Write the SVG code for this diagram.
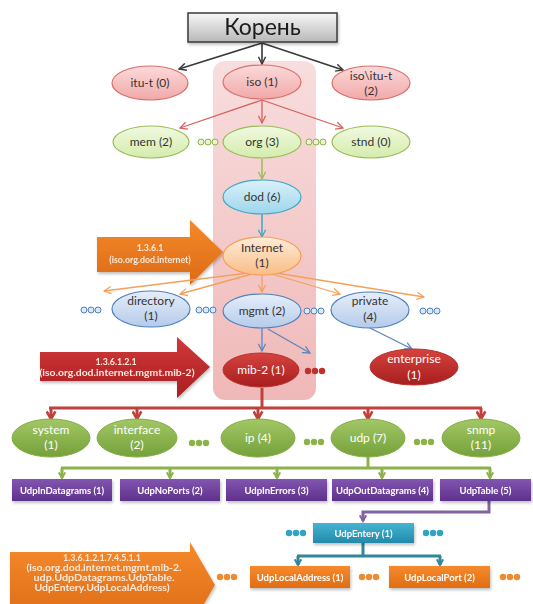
<svg xmlns="http://www.w3.org/2000/svg" width="533" height="604" viewBox="0 0 533 604">
<defs>
<linearGradient id="gRoot" x1="0" y1="0" x2="0" y2="1"><stop offset="0" stop-color="#f7f7f7"/><stop offset="1" stop-color="#b8b8b8"/></linearGradient>
<linearGradient id="gPink" x1="0" y1="0" x2="0" y2="1"><stop offset="0" stop-color="#fbdada"/><stop offset="1" stop-color="#f2a8a8"/></linearGradient>
<linearGradient id="gLGreen" x1="0" y1="0" x2="0" y2="1"><stop offset="0" stop-color="#f0f9e0"/><stop offset="1" stop-color="#d4ecac"/></linearGradient>
<linearGradient id="gCyan" x1="0" y1="0" x2="0" y2="1"><stop offset="0" stop-color="#d9f1fa"/><stop offset="1" stop-color="#9dd6ec"/></linearGradient>
<linearGradient id="gPeach" x1="0" y1="0" x2="0" y2="1"><stop offset="0" stop-color="#feecd8"/><stop offset="1" stop-color="#f9bd86"/></linearGradient>
<linearGradient id="gLBlue" x1="0" y1="0" x2="0" y2="1"><stop offset="0" stop-color="#e6eefa"/><stop offset="1" stop-color="#b5cbea"/></linearGradient>
<linearGradient id="gDRed" x1="0" y1="0" x2="0" y2="1"><stop offset="0" stop-color="#d6433e"/><stop offset="1" stop-color="#a61e1e"/></linearGradient>
<linearGradient id="gDGreen" x1="0" y1="0" x2="0" y2="1"><stop offset="0" stop-color="#a2c865"/><stop offset="1" stop-color="#75a03a"/></linearGradient>
<linearGradient id="gPurple" x1="0" y1="0" x2="0" y2="1"><stop offset="0" stop-color="#8256b0"/><stop offset="1" stop-color="#5e318c"/></linearGradient>
<linearGradient id="gTeal" x1="0" y1="0" x2="0" y2="1"><stop offset="0" stop-color="#45b4d2"/><stop offset="1" stop-color="#218aaa"/></linearGradient>
<linearGradient id="gOrange" x1="0" y1="0" x2="0" y2="1"><stop offset="0" stop-color="#f68a2c"/><stop offset="1" stop-color="#e06d12"/></linearGradient>
<linearGradient id="gBigOrange" x1="0" y1="0" x2="0" y2="1"><stop offset="0" stop-color="#f5892c"/><stop offset="1" stop-color="#dc6a14"/></linearGradient>
<linearGradient id="gBigRed" x1="0" y1="0" x2="0" y2="1"><stop offset="0" stop-color="#d0383a"/><stop offset="1" stop-color="#a91f22"/></linearGradient>
<linearGradient id="gCol" x1="0" y1="0" x2="0" y2="1"><stop offset="0" stop-color="#f7dada"/><stop offset="1" stop-color="#eeb0b0"/></linearGradient>
<filter id="sh" x="-20%" y="-20%" width="140%" height="150%"><feDropShadow dx="1" dy="2" stdDeviation="1.5" flood-color="#000" flood-opacity="0.25"/></filter>
<marker id="aDark" viewBox="0 0 10 10" refX="9" refY="5" markerWidth="9" markerHeight="9" markerUnits="userSpaceOnUse" orient="auto"><path d="M1,1 L9,5 L1,9" fill="none" stroke="#3a3a3a" stroke-width="1.6"/></marker>
<marker id="aRed" viewBox="0 0 10 10" refX="9" refY="5" markerWidth="9" markerHeight="9" markerUnits="userSpaceOnUse" orient="auto"><path d="M1,1 L9,5 L1,9" fill="none" stroke="#d9605c" stroke-width="1.4"/></marker>
<marker id="aGreen" viewBox="0 0 10 10" refX="9" refY="5" markerWidth="9" markerHeight="9" markerUnits="userSpaceOnUse" orient="auto"><path d="M1,1 L9,5 L1,9" fill="none" stroke="#9bbb59" stroke-width="1.4"/></marker>
<marker id="aCyan" viewBox="0 0 10 10" refX="9" refY="5" markerWidth="9" markerHeight="9" markerUnits="userSpaceOnUse" orient="auto"><path d="M1,1 L9,5 L1,9" fill="none" stroke="#3fa6c4" stroke-width="1.4"/></marker>
<marker id="aOrange" viewBox="0 0 10 10" refX="9" refY="5" markerWidth="9" markerHeight="9" markerUnits="userSpaceOnUse" orient="auto"><path d="M1,1 L9,5 L1,9" fill="none" stroke="#f5a05a" stroke-width="1.4"/></marker>
<marker id="aBlue" viewBox="0 0 10 10" refX="9" refY="5" markerWidth="9" markerHeight="9" markerUnits="userSpaceOnUse" orient="auto"><path d="M1,1 L9,5 L1,9" fill="none" stroke="#5b86c0" stroke-width="1.4"/></marker>
<marker id="aDRed" viewBox="0 0 10 10" refX="8" refY="5" markerWidth="11" markerHeight="11" markerUnits="userSpaceOnUse" orient="auto"><path d="M1,1 L8,5 L1,9" fill="none" stroke="#c0403c" stroke-width="2.4"/></marker>
<marker id="aDGreen" viewBox="0 0 10 10" refX="8" refY="5" markerWidth="8" markerHeight="8" markerUnits="userSpaceOnUse" orient="auto"><path d="M1,1 L8,5 L1,9" fill="none" stroke="#8cb34a" stroke-width="2.4"/></marker>
<marker id="aPurple" viewBox="0 0 10 10" refX="8" refY="5" markerWidth="8" markerHeight="8" markerUnits="userSpaceOnUse" orient="auto"><path d="M1,1 L8,5 L1,9" fill="none" stroke="#8064a2" stroke-width="2.4"/></marker>
<marker id="aTeal" viewBox="0 0 10 10" refX="8" refY="5" markerWidth="8" markerHeight="8" markerUnits="userSpaceOnUse" orient="auto"><path d="M1,1 L8,5 L1,9" fill="none" stroke="#31859c" stroke-width="2.4"/></marker>
</defs>
<style>
text{font-family:Lato,"Liberation Sans","Noto Sans",sans-serif;text-anchor:middle}
.lbl{font-size:12px;fill:#333333}
.wl{font-size:12px;fill:#ffffff}
.bx{font-size:9.5px;font-weight:bold;fill:#ffffff}
.ar{font-size:8.8px;font-weight:bold;fill:#fde9d9}
.pink{fill:url(#gPink);stroke:#d9706c;stroke-width:1.2}
.lgreen{fill:url(#gLGreen);stroke:#9bbb59;stroke-width:1.2}
.cyan{fill:url(#gCyan);stroke:#3fa6c4;stroke-width:1.2}
.peach{fill:url(#gPeach);stroke:#f59d56;stroke-width:1.2}
.lblue{fill:url(#gLBlue);stroke:#4f81bd;stroke-width:1.2}
.dred{fill:url(#gDRed);stroke:#b8322f;stroke-width:1}
.dgreen{fill:url(#gDGreen);stroke:#85ad45;stroke-width:1}
.purple{fill:url(#gPurple)}
.teal{fill:url(#gTeal)}
.orange{fill:url(#gOrange)}
.c{fill:none}
.cd{stroke:#3a3a3a;stroke-width:1.6}
.cr{stroke:#d9605c;stroke-width:1.3}
.cg{stroke:#9bbb59;stroke-width:1.5}
.cc{stroke:#3fa6c4;stroke-width:1.5}
.co{stroke:#f5a05a;stroke-width:1.3}
.cb{stroke:#5b86c0;stroke-width:1.3}
.bdr{stroke:#c0403c;stroke-width:3}
.bdg{stroke:#8cb34a;stroke-width:3}
.bpu{stroke:#8064a2;stroke-width:3}
.bte{stroke:#31859c;stroke-width:3}
.dlg{fill:#e8f5d0;stroke:#8cb34a;stroke-width:1}
.dlb{fill:#dce8f8;stroke:#4f81bd;stroke-width:1}
.ddr{fill:#c0302c}
.ddg{fill:#8cb34a}
.dte{fill:#2ea3c4}
.dor{fill:#f08a30}
</style>

<rect id="column" x="213" y="61" width="103" height="339" rx="12" fill="url(#gCol)" opacity="0.9"/>

<g id="bigarrows">
<g id="arrow-internet" filter="url(#sh)">
<polygon points="97,237 190,237 190,220 223,252 190,285 190,272 97,272" fill="url(#gBigOrange)"/>
<text class="ar" x="150" y="251">1.3.6.1</text>
<text class="ar" x="150" y="263">(iso.org.dod.internet)</text>
</g>
<g id="arrow-mib2" filter="url(#sh)">
<polygon points="40,352 177,352 177,337 210,367 177,398 177,381 40,381" fill="url(#gBigRed)"/>
<text class="ar" x="116" y="365" fill="#f7d3d3">1.3.6.1.2.1</text>
<text class="ar" x="117" y="376" textLength="155" lengthAdjust="spacingAndGlyphs">(iso.org.dod.internet.mgmt.mib-2)</text>
</g>
<g id="arrow-udplocal" filter="url(#sh)">
<polygon points="10,552 190,552 190,542 215,585 190,628 190,618 10,618" fill="url(#gBigOrange)"/>
<text class="ar" x="102" y="561" textLength="78" lengthAdjust="spacingAndGlyphs">1.3.6.1.2.1.7.4.5.1.1</text>
<text class="ar" x="104" y="571" textLength="155" lengthAdjust="spacingAndGlyphs">(iso.org.dod.internet.mgmt.mib-2.</text>
<text class="ar" x="104" y="581" textLength="141" lengthAdjust="spacingAndGlyphs">udp.UdpDatagrams.UdpTable.</text>
<text class="ar" x="102" y="591" textLength="135" lengthAdjust="spacingAndGlyphs">UdpEntery.UdpLocalAddress)</text>
</g>
</g>

<g id="connectors" class="c">
<line class="cd" x1="262" y1="43" x2="179" y2="69" marker-end="url(#aDark)"/>
<line class="cd" x1="262" y1="43" x2="262" y2="64" marker-end="url(#aDark)"/>
<line class="cd" x1="262" y1="43" x2="343" y2="70" marker-end="url(#aDark)"/>
<line class="cr" x1="262" y1="100" x2="180" y2="128" marker-end="url(#aRed)"/>
<line class="cr" x1="262" y1="100" x2="262" y2="123" marker-end="url(#aRed)"/>
<line class="cr" x1="262" y1="100" x2="343" y2="128" marker-end="url(#aRed)"/>
<line class="cg" x1="262" y1="159" x2="262" y2="179" marker-end="url(#aGreen)"/>
<line class="cc" x1="262" y1="214" x2="262" y2="237" marker-end="url(#aCyan)"/>
<line class="co" x1="248" y1="273" x2="104" y2="291" marker-end="url(#aOrange)"/>
<line class="co" x1="252" y1="274" x2="180" y2="294" marker-end="url(#aOrange)"/>
<line class="co" x1="262" y1="274" x2="262" y2="292" marker-end="url(#aOrange)"/>
<line class="co" x1="272" y1="274" x2="340" y2="294" marker-end="url(#aOrange)"/>
<line class="co" x1="276" y1="273" x2="424" y2="297" marker-end="url(#aOrange)"/>
<line class="cb" x1="262" y1="328" x2="262" y2="351" marker-end="url(#aBlue)"/>
<line class="cb" x1="268" y1="329" x2="310" y2="353" marker-end="url(#aBlue)"/>
<line class="cb" x1="370" y1="328" x2="412" y2="349" marker-end="url(#aBlue)"/>
<polyline class="bdr" points="262,388 262,408"/>
<line class="bdr" x1="49" y1="408" x2="482" y2="408"/>
<line class="bdr" x1="51" y1="408" x2="51" y2="419" marker-end="url(#aDRed)"/>
<line class="bdr" x1="137" y1="408" x2="137" y2="419" marker-end="url(#aDRed)"/>
<line class="bdr" x1="258" y1="408" x2="258" y2="419" marker-end="url(#aDRed)"/>
<line class="bdr" x1="368" y1="408" x2="368" y2="419" marker-end="url(#aDRed)"/>
<line class="bdr" x1="481" y1="408" x2="481" y2="419" marker-end="url(#aDRed)"/>
<polyline class="bdg" points="368,456 368,468"/>
<line class="bdg" x1="61" y1="468" x2="491" y2="468"/>
<line class="bdg" x1="62" y1="468" x2="62" y2="478" marker-end="url(#aDGreen)"/>
<line class="bdg" x1="170" y1="468" x2="170" y2="478" marker-end="url(#aDGreen)"/>
<line class="bdg" x1="277" y1="468" x2="277" y2="478" marker-end="url(#aDGreen)"/>
<line class="bdg" x1="382" y1="468" x2="382" y2="478" marker-end="url(#aDGreen)"/>
<line class="bdg" x1="490" y1="468" x2="490" y2="478" marker-end="url(#aDGreen)"/>
<polyline class="bpu" points="489,501 489,512 363,512 363,521" marker-end="url(#aPurple)"/>
<polyline class="bte" points="363,543 363,556"/>
<line class="bte" x1="297" y1="556" x2="441" y2="556"/>
<line class="bte" x1="298" y1="556" x2="298" y2="565" marker-end="url(#aTeal)"/>
<line class="bte" x1="440" y1="556" x2="440" y2="565" marker-end="url(#aTeal)"/>
</g>

<g id="dots">
<g class="dlg"><circle cx="201" cy="142" r="3"/><circle cx="208" cy="142" r="3"/><circle cx="215" cy="142" r="3"/></g>
<g class="dlg"><circle cx="309" cy="142" r="3"/><circle cx="316" cy="142" r="3"/><circle cx="323" cy="142" r="3"/></g>
<g class="dlb"><circle cx="84" cy="310" r="3"/><circle cx="91" cy="310" r="3"/><circle cx="98" cy="310" r="3"/></g>
<g class="dlb"><circle cx="199" cy="310" r="3"/><circle cx="206" cy="310" r="3"/><circle cx="213" cy="310" r="3"/></g>
<g class="dlb"><circle cx="307" cy="311" r="3"/><circle cx="314" cy="311" r="3"/><circle cx="321" cy="311" r="3"/></g>
<g class="dlb"><circle cx="423" cy="311" r="3"/><circle cx="430" cy="311" r="3"/><circle cx="437" cy="311" r="3"/></g>
<g class="ddr"><circle cx="308" cy="371" r="3.2"/><circle cx="315" cy="371" r="3.2"/><circle cx="322" cy="371" r="3.2"/></g>
<g class="ddg"><circle cx="192" cy="443" r="3.2"/><circle cx="199" cy="443" r="3.2"/><circle cx="206" cy="443" r="3.2"/></g>
<g class="ddg"><circle cx="307" cy="442" r="3.2"/><circle cx="314" cy="442" r="3.2"/><circle cx="321" cy="442" r="3.2"/></g>
<g class="ddg"><circle cx="417" cy="442" r="3.2"/><circle cx="424" cy="442" r="3.2"/><circle cx="431" cy="442" r="3.2"/></g>
<g class="dte"><circle cx="289" cy="533" r="3.2"/><circle cx="296" cy="533" r="3.2"/><circle cx="303" cy="533" r="3.2"/></g>
<g class="dte"><circle cx="426" cy="533" r="3.2"/><circle cx="433" cy="533" r="3.2"/><circle cx="440" cy="533" r="3.2"/></g>
<g class="dor"><circle cx="220" cy="577" r="3.2"/><circle cx="227" cy="577" r="3.2"/><circle cx="234" cy="577" r="3.2"/></g>
<g class="dor"><circle cx="362" cy="577" r="3.2"/><circle cx="369" cy="577" r="3.2"/><circle cx="376" cy="577" r="3.2"/></g>
<g class="dor"><circle cx="503" cy="577" r="3.2"/><circle cx="510" cy="577" r="3.2"/><circle cx="517" cy="577" r="3.2"/></g>
</g>

<g id="root" filter="url(#sh)"><rect x="188" y="13" width="149" height="29" fill="url(#gRoot)" stroke="#3a3a3a" stroke-width="1.5"/><text x="262.5" y="35" font-size="23" fill="#1a1a1a">Корень</text></g>

<g id="itu-t"><ellipse class="pink" cx="150" cy="83" rx="38" ry="17"/><text class="lbl" x="150" y="87">itu-t (0)</text></g>
<g id="iso"><ellipse class="pink" cx="262" cy="82" rx="39" ry="17"/><text class="lbl" x="262" y="86">iso (1)</text></g>
<g id="iso-itu-t"><ellipse class="pink" cx="371" cy="83" rx="39" ry="17"/><text class="lbl" x="371" y="80">iso\itu-t</text><text class="lbl" x="371" y="95">(2)</text></g>

<g id="mem"><ellipse class="lgreen" cx="151" cy="142" rx="38" ry="16"/><text class="lbl" x="151" y="146">mem (2)</text></g>
<g id="org"><ellipse class="lgreen" cx="262" cy="142" rx="39" ry="16"/><text class="lbl" x="262" y="146">org (3)</text></g>
<g id="stnd"><ellipse class="lgreen" cx="371" cy="142" rx="39" ry="16"/><text class="lbl" x="371" y="146">stnd (0)</text></g>

<g id="dod"><ellipse class="cyan" cx="262" cy="197" rx="39" ry="17"/><text class="lbl" x="262" y="201">dod (6)</text></g>
<g id="internet"><ellipse class="peach" cx="262" cy="256" rx="39" ry="19"/><text class="lbl" x="262" y="252">Internet</text><text class="lbl" x="262" y="267">(1)</text></g>

<g id="directory"><ellipse class="lblue" cx="151" cy="309" rx="39" ry="18"/><text class="lbl" x="151" y="305">directory</text><text class="lbl" x="151" y="320">(1)</text></g>
<g id="mgmt"><ellipse class="lblue" cx="262" cy="311" rx="39" ry="17"/><text class="lbl" x="262" y="315">mgmt (2)</text></g>
<g id="private"><ellipse class="lblue" cx="370" cy="310" rx="39" ry="18"/><text class="lbl" x="370" y="305">private</text><text class="lbl" x="370" y="321">(4)</text></g>

<g id="mib-2"><ellipse class="dred" cx="261" cy="370" rx="38" ry="17"/><text class="wl" x="261" y="374">mib-2 (1)</text></g>
<g id="enterprise"><ellipse class="dred" cx="414" cy="367" rx="44" ry="18"/><text class="wl" x="414" y="363">enterprise</text><text class="wl" x="414" y="379">(1)</text></g>

<g id="system"><ellipse class="dgreen" cx="51" cy="438" rx="39" ry="19"/><text class="wl" x="51" y="434">system</text><text class="wl" x="51" y="449">(1)</text></g>
<g id="interface"><ellipse class="dgreen" cx="137" cy="438" rx="40" ry="19"/><text class="wl" x="137" y="434">interface</text><text class="wl" x="137" y="449">(2)</text></g>
<g id="ip"><ellipse class="dgreen" cx="258" cy="438" rx="37" ry="19"/><text class="wl" x="258" y="442">ip (4)</text></g>
<g id="udp"><ellipse class="dgreen" cx="368" cy="438" rx="37" ry="19"/><text class="wl" x="368" y="442">udp (7)</text></g>
<g id="snmp"><ellipse class="dgreen" cx="481" cy="438" rx="39" ry="19"/><text class="wl" x="481" y="434">snmp</text><text class="wl" x="481" y="449">(11)</text></g>

<g id="UdpInDatagrams" filter="url(#sh)"><rect class="purple" x="12" y="479" width="100" height="22"/><text class="bx" x="62" y="493.5">UdpInDatagrams (1)</text></g>
<g id="UdpNoPorts" filter="url(#sh)"><rect class="purple" x="120" y="479" width="100" height="22"/><text class="bx" x="170" y="493.5">UdpNoPorts (2)</text></g>
<g id="UdpInErrors" filter="url(#sh)"><rect class="purple" x="226" y="479" width="101" height="22"/><text class="bx" x="276.5" y="493.5">UdpInErrors (3)</text></g>
<g id="UdpOutDatagrams" filter="url(#sh)"><rect class="purple" x="332" y="479" width="101" height="22"/><text class="bx" x="382.5" y="493.5">UdpOutDatagrams (4)</text></g>
<g id="UdpTable" filter="url(#sh)"><rect class="purple" x="440" y="479" width="91" height="22"/><text class="bx" x="485.5" y="493.5">UdpTable (5)</text></g>

<g id="UdpEntery" filter="url(#sh)"><rect class="teal" x="313" y="523" width="101" height="20"/><text class="bx" x="363.5" y="536.5">UdpEntery (1)</text></g>

<g id="UdpLocalAddress" filter="url(#sh)"><rect class="orange" x="250" y="566" width="100" height="22"/><text class="bx" x="300" y="580.5">UdpLocalAddress (1)</text></g>
<g id="UdpLocalPort" filter="url(#sh)"><rect class="orange" x="389" y="566" width="101" height="22"/><text class="bx" x="439.5" y="580.5">UdpLocalPort (2)</text></g>
</svg>
